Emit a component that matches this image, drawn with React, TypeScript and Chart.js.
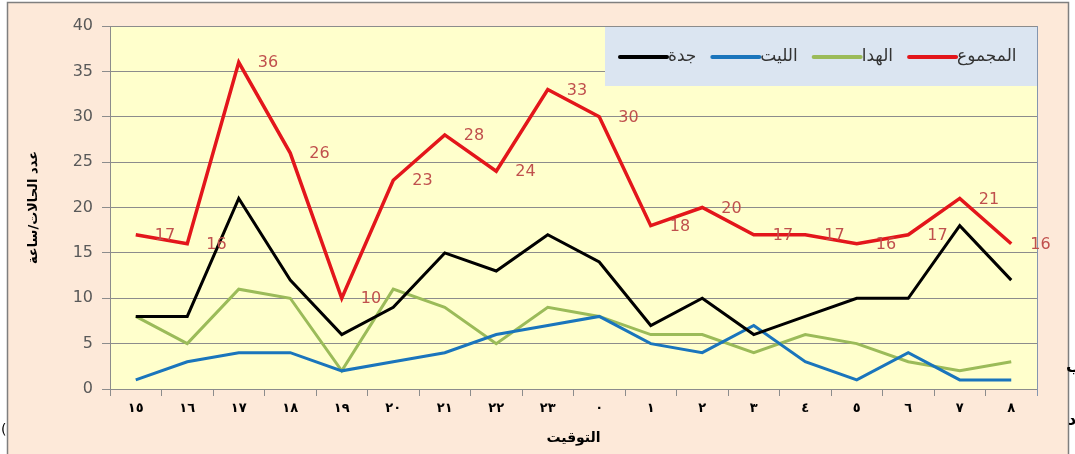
import React, { useEffect, useRef } from "react";
import { Chart, registerables } from "chart.js";

Chart.register(...registerables);

const categories = ["١٥", "١٦", "١٧", "١٨", "١٩", "٢٠", "٢١", "٢٢", "٢٣", "٠", "١", "٢", "٣", "٤", "٥", "٦", "٧", "٨"];
const jeddah = [8, 8, 21, 12, 6, 9, 15, 13, 17, 14, 7, 10, 6, 8, 10, 10, 18, 12];
const lith = [1, 3, 4, 4, 2, 3, 4, 6, 7, 8, 5, 4, 7, 3, 1, 4, 1, 1];
const hada = [8, 5, 11, 10, 2, 11, 9, 5, 9, 8, 6, 6, 4, 6, 5, 3, 2, 3];
const total = [17, 16, 36, 26, 10, 23, 28, 24, 33, 30, 18, 20, 17, 17, 16, 17, 21, 16];
const yTicks = [0, 5, 10, 15, 20, 25, 30, 35, 40];

const seriesNames = ["جدة", "الليت", "الهدا", "المجموع"];
const seriesColors = ["#000000", "#1a75bc", "#9bbb59", "#e3161b"];

const AR_FONT = "'DejaVu Sans', sans-serif";

const framePlugin = {
  id: "frame",
  beforeDraw(chart: any) {
    const { ctx, chartArea, width, height } = chart;
    ctx.save();
    ctx.fillStyle = "#ffffff";
    ctx.fillRect(0, 0, width, height);
    ctx.fillStyle = "#fde9d9";
    ctx.fillRect(7, 2, 1061, height);
    ctx.strokeStyle = "#7f7f7f";
    ctx.lineWidth = 1.5;
    ctx.beginPath();
    ctx.moveTo(7.5, height);
    ctx.lineTo(7.5, 2.5);
    ctx.lineTo(1068.5, 2.5);
    ctx.lineTo(1068.5, height);
    ctx.stroke();
    ctx.fillStyle = "#ffffcc";
    ctx.fillRect(chartArea.left, chartArea.top, chartArea.right - chartArea.left, chartArea.bottom - chartArea.top);
    // stray glyphs from the page
    ctx.fillStyle = "#000";
    ctx.font = "bold 16px " + AR_FONT;
    ctx.textBaseline = "middle";
    ctx.textAlign = "left";
    ctx.fillText("ب", 1066, 368);
    ctx.fillText("د", 1068, 421);
    ctx.font = "14px " + AR_FONT;
    ctx.fillText("(", 1, 430);
    ctx.restore();
  },
  beforeDatasetsDraw(chart: any) {
    const { ctx, chartArea } = chart;
    ctx.save();
    // legend box
    const boxLeft = 605;
    const boxTop = chartArea.top + 1;
    const boxBottom = 86;
    ctx.fillStyle = "#dbe5f1";
    ctx.fillRect(boxLeft, boxTop, chartArea.right - boxLeft, boxBottom - boxTop);
    const cy = 57;
    let x = 620;
    ctx.font = "17px " + AR_FONT;
    ctx.textBaseline = "middle";
    ctx.textAlign = "left";
    for (let i = 0; i < seriesNames.length; i++) {
      ctx.strokeStyle = seriesColors[i];
      ctx.lineWidth = 4;
      ctx.lineCap = "round";
      ctx.beginPath();
      ctx.moveTo(x, cy);
      ctx.lineTo(x + 47, cy);
      ctx.stroke();
      x += 48;
      ctx.fillStyle = "#333333";
      ctx.fillText(seriesNames[i], x, cy);
      x += ctx.measureText(seriesNames[i]).width + 16;
    }
    ctx.restore();
  },
  afterDatasetsDraw(chart: any) {
    const { ctx, chartArea } = chart;
    ctx.save();
    // right border of plot
    ctx.strokeStyle = "#8496b0";
    ctx.lineWidth = 1;
    ctx.beginPath();
    ctx.moveTo(chartArea.right + 0.5, chartArea.top);
    ctx.lineTo(chartArea.right + 0.5, chartArea.bottom + 7);
    ctx.stroke();
    // data labels for total
    const meta = chart.getDatasetMeta(3);
    ctx.fillStyle = "#c0504d";
    ctx.font = "16px 'DejaVu Sans', sans-serif";
    ctx.textBaseline = "middle";
    ctx.textAlign = "left";
    meta.data.forEach((pt: any, i: number) => {
      ctx.fillText(String(total[i]), pt.x + 19, pt.y + 1);
    });
    ctx.restore();
  },
};

export default function App() {
  const ref = useRef<HTMLCanvasElement | null>(null);
  useEffect(() => {
    if (!ref.current) return;
    const gridColor = "#8c8c8c";
    const chart = new Chart(ref.current, {
      type: "line",
      data: {
        labels: categories,
        datasets: [
          { label: seriesNames[0], data: jeddah, borderColor: seriesColors[0], backgroundColor: seriesColors[0], borderWidth: 3, pointRadius: 0, tension: 0 },
          { label: seriesNames[1], data: lith, borderColor: seriesColors[1], backgroundColor: seriesColors[1], borderWidth: 3, pointRadius: 0, tension: 0 },
          { label: seriesNames[2], data: hada, borderColor: seriesColors[2], backgroundColor: seriesColors[2], borderWidth: 3, pointRadius: 0, tension: 0 },
          { label: seriesNames[3], data: total, borderColor: seriesColors[3], backgroundColor: seriesColors[3], borderWidth: 3.5, pointRadius: 0, tension: 0 },
        ],
      },
      options: {
        responsive: false,
        animation: false,
        events: [],
        layout: { padding: { top: 26, right: 38, left: 0, bottom: 0 } },
        plugins: { legend: { display: false }, tooltip: { enabled: false } },
        scales: {
          x: {
            type: "category",
            offset: true,
            grid: { drawOnChartArea: false, drawTicks: true, tickLength: 7, color: gridColor, offset: true },
            border: { display: true, color: gridColor },
            ticks: { color: "#000", font: { family: AR_FONT, size: 13, weight: "bold" }, padding: 5, maxRotation: 0, autoSkip: false },
            title: { display: true, text: "التوقيت", color: "#000", font: { family: AR_FONT, size: 14, weight: "bold" }, padding: { top: 0, bottom: 7 } },
            afterFit: (s: any) => { s.height = 65; },
          },
          y: {
            min: 0,
            max: 40,
            afterBuildTicks: (s: any) => { s.ticks = yTicks.map((v) => ({ value: v })); },
            grid: { color: gridColor, tickLength: 8, drawTicks: true },
            border: { display: true, color: gridColor },
            ticks: { color: "#595959", font: { family: "'DejaVu Sans', sans-serif", size: 16 }, padding: 9 },
            title: { display: true, text: "عدد الحالات/ساعة", color: "#000", font: { family: AR_FONT, size: 13, weight: "bold" }, padding: { top: 26, bottom: 0 } },
            afterFit: (s: any) => { s.width = 110; },
          },
        },
      },
      plugins: [framePlugin],
    });
    return () => chart.destroy();
  }, []);
  return (
    <div style={{ position: "absolute", left: 0, top: 0, width: 1075, height: 454 }}>
      <canvas ref={ref} width={1075} height={454} style={{ width: 1075, height: 454, display: "block" }} />
    </div>
  );
}
